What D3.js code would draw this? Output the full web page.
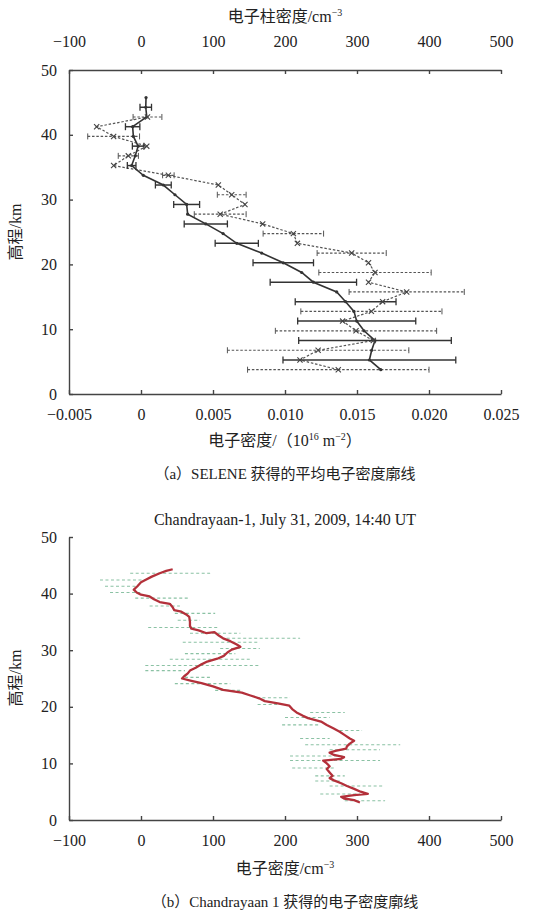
<!DOCTYPE html>
<html>
<head>
<meta charset="utf-8">
<script src="https://cdn.jsdelivr.net/npm/d3@7"></script>
<style>
body { margin: 0; background: #fff; }
text { font-family: "Liberation Serif", "Times New Roman", "Noto Sans CJK SC", serif; fill: #222; }
.axis path, .axis line { stroke: #444; stroke-width: 1.4; }
.axis text { font-size: 16px; font-family: "Liberation Serif", serif; fill: #222; }
</style>
</head>
<body>
<svg id="chart" width="546" height="913"></svg>
<script>
// ---- data: SELENE (a) ----
var seleneAlt = [3.75, 5.25, 6.75, 8.25, 9.75, 11.25, 12.75, 14.25, 15.75, 17.25, 18.75, 20.25, 21.75, 23.25, 24.75,
                 26.25, 27.75, 29.25, 30.75, 32.25, 33.75, 35.25, 36.75, 38.25, 39.75, 41.25, 42.75, 44.25, 45.75];
var seleneMean = [0.01665, 0.01586, 0.01602, 0.01625, 0.01549, 0.01498, 0.01479, 0.01421, 0.01359, 0.01197, 0.01116,
                  0.00988, 0.00838, 0.00665, 0.0057, 0.0045, 0.00324, 0.00317, 0.00236, 0.00155, 0.00016, -0.00065,
                  -0.0004, -0.0002, -0.00053, -0.00058, 0.0004, 0.00033, 0.00035];
var seleneMeanErr = [null, 0.006, null, 0.0053, null, 0.0041, null, 0.0035, null, 0.003, null, 0.0021, null, 0.0015, null,
                     0.0015, null, 0.0009, null, 0.00055, null, 0.0003, null, 0.0004, null, 0.0005, null, 0.0004, null];
var seleneDash = [0.0137, 0.01104, 0.0123, 0.01613, 0.01493, 0.014, 0.016, 0.01678, 0.01845, 0.0158, 0.01625,
                  0.0158, 0.01463, 0.01086, 0.01058, 0.00845, 0.0055, 0.00722, 0.0063, 0.00537, 0.0019, -0.0019,
                  -0.00088, 0.0004, -0.0019, -0.00308, 0.00045, null, null];
var seleneDashErr = [0.0063, null, 0.0063, null, 0.0056, null, 0.0049, null, 0.004, null, 0.0039, null, 0.0024, null,
                     0.0021, null, 0.0018, null, 0.001, null, 0.0004, null, 0.0007, null, 0.0018, null, 0.001, null, null];
var xTicksA = [-0.005, 0, 0.005, 0.010, 0.015, 0.020, 0.025];
var xTicksTop = [-100, 0, 100, 200, 300, 400, 500];
var yTicks = [0, 10, 20, 30, 40, 50];

// ---- data: Chandrayaan-1 (b) ----
var chAlt = [44.3, 44.0, 43.6, 43.0, 42.4, 42.0, 41.3, 40.7, 40.2, 39.8, 39.5, 39.0, 38.5, 38.2, 37.6, 37.1, 36.8, 36.2,
             35.9, 35.0, 34.3, 33.8, 33.5, 33.0, 33.2, 32.6, 32.1, 31.6, 31.0, 30.6, 30.1, 29.6, 29.0, 28.5, 28.0, 27.5,
             26.9, 26.4, 25.9, 25.4, 25.0, 24.6, 24.2, 23.6, 23.0, 22.5, 22.0, 21.5, 21.0, 20.6, 20.2, 19.6, 19.0, 18.4,
             18.0, 17.4, 16.8, 16.2, 15.6, 15.0, 14.4, 14.0, 13.5, 13.0, 12.6, 12.2, 11.9, 11.5, 11.1, 10.8, 10.5, 10.0,
             9.5, 9.0, 8.4, 7.8, 7.4, 7.0, 6.5, 6.0, 5.5, 5.0, 4.6, 4.4, 4.1, 3.8, 3.5, 3.1];
var chDensity = [44, 35, 26, 15, 6, 0, -5, -10, -6, 0, 12, 18, 26, 40, 44, 46, 56, 64,
                 67, 68, 68, 70, 80, 91, 102, 108, 114, 124, 133, 138, 126, 120, 115, 106, 92, 84,
                 76, 68, 65, 60, 57, 70, 84, 100, 114, 140, 152, 164, 172, 190, 206, 210, 216, 225,
                 232, 250, 258, 267, 276, 283, 290, 296, 290, 286, 285, 270, 262, 268, 282, 278, 253, 258,
                 262, 258, 262, 266, 262, 268, 278, 286, 296, 305, 315, 296, 278, 282, 296, 304];
var chErrAlt = [43.6, 42.4, 41.3, 40.2, 39.2, 37.8, 36.5, 35.3, 34.0, 33.0, 32.1, 31.4, 30.3, 29.4, 28.4, 27.3, 26.4,
                25.2, 24.1, 22.9, 21.6, 20.4, 19.0, 18.1, 16.8, 15.8, 14.4, 13.3, 12.4, 11.3, 10.5, 9.2, 7.8, 6.9, 6.0,
                4.6, 3.4];
var chErrLo = [-15, -57, -50, -43, -8, 12, 47, 51, 10, 68, 119, 58, 110, 61, 40, 6, 6,
               61, 47, 103, 161, 162, 235, 200, 196, 276, 221, 228, 262, 207, 207, 210, 242, 242, 262,
               249, 283];
var chErrHi = [96, 6, -8, -1, 68, 54, 103, 82, 106, 138, 221, 165, 165, 131, 151, 165, 61,
               96, 124, 138, 207, 196, 283, 262, 249, 307, 262, 360, 332, 283, 332, 269, 283, 276, 336,
               304, 339];

var svg = d3.select("#chart");
svg.append("rect").attr("width", 546).attr("height", 913).attr("fill", "#fff");

// ================= panel (a) =================
var xA = d3.scaleLinear().domain([-0.005, 0.025]).range([69, 501]);
var xATop = d3.scaleLinear().domain([-100, 500]).range([69, 501]);
var yA = d3.scaleLinear().domain([0, 50]).range([394, 70]);

var fmtA = function (d) { return d === 0 ? "0" : d3.format(".3f")(d); };

svg.append("g").attr("class", "axis").attr("transform", "translate(0,394)")
    .call(d3.axisBottom(xA).tickValues(xTicksA).tickFormat(fmtA).tickSizeInner(-4).tickSizeOuter(0).tickPadding(15));
svg.append("g").attr("class", "axis").attr("transform", "translate(0,70)")
    .call(d3.axisTop(xATop).tickValues(xTicksTop).tickSizeInner(-4).tickSizeOuter(0).tickPadding(23));
svg.append("g").attr("class", "axis").attr("transform", "translate(69,0)")
    .call(d3.axisLeft(yA).tickValues(yTicks).tickFormat(d3.format("d")).tickSizeInner(-4).tickSizeOuter(0).tickPadding(12));

var gA = svg.append("g");
var idx = d3.range(seleneAlt.length);

// dashed series + error bars
var lineDash = d3.line()
    .defined(function (i) { return seleneDash[i] !== null; })
    .x(function (i) { return xA(seleneDash[i]); })
    .y(function (i) { return yA(seleneAlt[i]); });
gA.append("path").attr("d", lineDash(idx))
    .attr("fill", "none").attr("stroke", "#555").attr("stroke-width", 1.2).attr("stroke-dasharray", "2.5,1.8");

var dashBars = idx.filter(function (i) { return seleneDashErr[i] !== null && seleneDash[i] !== null; });
gA.selectAll(".dbar").data(dashBars).enter().append("line")
    .attr("x1", function (i) { return xA(seleneDash[i] - seleneDashErr[i]); })
    .attr("x2", function (i) { return xA(seleneDash[i] + seleneDashErr[i]); })
    .attr("y1", function (i) { return yA(seleneAlt[i]); })
    .attr("y2", function (i) { return yA(seleneAlt[i]); })
    .attr("stroke", "#555").attr("stroke-width", 1.2).attr("stroke-dasharray", "2.5,1.8");
[-1, 1].forEach(function (s) {
    gA.selectAll(".dcap" + s).data(dashBars).enter().append("line")
        .attr("x1", function (i) { return xA(seleneDash[i] + s * seleneDashErr[i]); })
        .attr("x2", function (i) { return xA(seleneDash[i] + s * seleneDashErr[i]); })
        .attr("y1", function (i) { return yA(seleneAlt[i]) - 3; })
        .attr("y2", function (i) { return yA(seleneAlt[i]) + 3; })
        .attr("stroke", "#555").attr("stroke-width", 1);
});

// solid series + error bars
var lineMean = d3.line()
    .x(function (i) { return xA(seleneMean[i]); })
    .y(function (i) { return yA(seleneAlt[i]); });
gA.append("path").attr("d", lineMean(idx))
    .attr("fill", "none").attr("stroke", "#333").attr("stroke-width", 1.6);

var meanBars = idx.filter(function (i) { return seleneMeanErr[i] !== null; });
gA.selectAll(".mbar").data(meanBars).enter().append("line")
    .attr("x1", function (i) { return xA(seleneMean[i] - seleneMeanErr[i]); })
    .attr("x2", function (i) { return xA(seleneMean[i] + seleneMeanErr[i]); })
    .attr("y1", function (i) { return yA(seleneAlt[i]); })
    .attr("y2", function (i) { return yA(seleneAlt[i]); })
    .attr("stroke", "#333").attr("stroke-width", 1.5);
[-1, 1].forEach(function (s) {
    gA.selectAll(".mcap" + s).data(meanBars).enter().append("line")
        .attr("x1", function (i) { return xA(seleneMean[i] + s * seleneMeanErr[i]); })
        .attr("x2", function (i) { return xA(seleneMean[i] + s * seleneMeanErr[i]); })
        .attr("y1", function (i) { return yA(seleneAlt[i]) - 3.5; })
        .attr("y2", function (i) { return yA(seleneAlt[i]) + 3.5; })
        .attr("stroke", "#333").attr("stroke-width", 1.3);
});
gA.selectAll(".mdot").data(idx).enter().append("circle")
    .attr("cx", function (i) { return xA(seleneMean[i]); })
    .attr("cy", function (i) { return yA(seleneAlt[i]); })
    .attr("r", 1.6).attr("fill", "#333");

// x markers on the dashed series
var crossPts = idx.filter(function (i) { return seleneDash[i] !== null; });
gA.selectAll(".cross").data(crossPts).enter().append("path")
    .attr("transform", function (i) { return "translate(" + xA(seleneDash[i]) + "," + yA(seleneAlt[i]) + ")"; })
    .attr("d", "M-2.6,-2.6L2.6,2.6M-2.6,2.6L2.6,-2.6")
    .attr("stroke", "#444").attr("stroke-width", 1.1);

// titles
var tTop = svg.append("text").attr("x", 285).attr("y", 22).attr("text-anchor", "middle").style("font-size", "16px");
tTop.append("tspan").text("电子柱密度/cm");
tTop.append("tspan").attr("dy", -6).style("font-size", "10px").text("−3");

var tBotA = svg.append("text").attr("x", 285).attr("y", 446).attr("text-anchor", "middle").style("font-size", "16px");
tBotA.append("tspan").text("电子密度/（10");
tBotA.append("tspan").attr("dy", -6).style("font-size", "10px").text("16");
tBotA.append("tspan").attr("dy", 6).text(" m");
tBotA.append("tspan").attr("dy", -6).style("font-size", "10px").text("−2");
tBotA.append("tspan").attr("dy", 6).text("）");

svg.append("text").attr("transform", "translate(21,232) rotate(-90)").attr("text-anchor", "middle")
    .style("font-size", "16px").text("高程/km");
svg.append("text").attr("x", 285).attr("y", 479).attr("text-anchor", "middle")
    .style("font-size", "15px").text("（a）SELENE 获得的平均电子密度廓线");

// ================= panel (b) =================
var xB = d3.scaleLinear().domain([-100, 500]).range([69, 501]);
var yB = d3.scaleLinear().domain([0, 50]).range([820, 537]);

svg.append("g").attr("class", "axis").attr("transform", "translate(0,820)")
    .call(d3.axisBottom(xB).tickValues(xTicksTop).tickSizeInner(-4).tickSizeOuter(0).tickPadding(15));
svg.append("g").attr("class", "axis").attr("transform", "translate(69,0)")
    .call(d3.axisLeft(yB).tickValues(yTicks).tickFormat(d3.format("d")).tickSizeInner(-4).tickSizeOuter(0).tickPadding(12));

var gB = svg.append("g");
var eIdx = d3.range(chErrAlt.length);
gB.selectAll(".gbar").data(eIdx).enter().append("line")
    .attr("x1", function (i) { return xB(chErrLo[i]); })
    .attr("x2", function (i) { return xB(chErrHi[i]); })
    .attr("y1", function (i) { return yB(chErrAlt[i]); })
    .attr("y2", function (i) { return yB(chErrAlt[i]); })
    .attr("stroke", "#3f9a68").attr("stroke-width", 1.1).attr("stroke-dasharray", "3,2.5")
    .attr("opacity", 0.6);

var lineCh = d3.line()
    .x(function (i) { return xB(chDensity[i]); })
    .y(function (i) { return yB(chAlt[i]); });
gB.append("path").attr("d", lineCh(d3.range(chAlt.length)))
    .attr("fill", "none").attr("stroke", "#b3303a").attr("stroke-width", 2.3).attr("stroke-linejoin", "round");

svg.append("text").attr("x", 285).attr("y", 525).attr("text-anchor", "middle")
    .style("font-size", "16px").text("Chandrayaan-1, July 31, 2009, 14:40 UT");

var tBotB = svg.append("text").attr("x", 285).attr("y", 874).attr("text-anchor", "middle").style("font-size", "16px");
tBotB.append("tspan").text("电子密度/cm");
tBotB.append("tspan").attr("dy", -6).style("font-size", "10px").text("−3");

svg.append("text").attr("transform", "translate(21,678) rotate(-90)").attr("text-anchor", "middle")
    .style("font-size", "16px").text("高程/km");
svg.append("text").attr("x", 285).attr("y", 907).attr("text-anchor", "middle")
    .style("font-size", "15px").text("（b）Chandrayaan 1 获得的电子密度廓线");
</script>
</body>
</html>
